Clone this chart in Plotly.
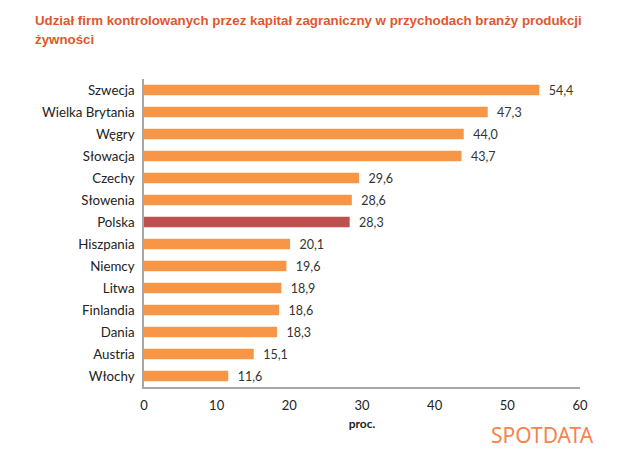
import plotly.graph_objects as go

countries = ['Szwecja', 'Wielka Brytania', 'Węgry', 'Słowacja', 'Czechy', 'Słowenia', 'Polska',
             'Hiszpania', 'Niemcy', 'Litwa', 'Finlandia', 'Dania', 'Austria', 'Włochy']
values = [54.4, 47.3, 44.0, 43.7, 29.6, 28.6, 28.3, 20.1, 19.6, 18.9, 18.6, 18.3, 15.1, 11.6]
labels = ['54,4', '47,3', '44,0', '43,7', '29,6', '28,6', '28,3', '20,1', '19,6', '18,9', '18,6', '18,3', '15,1', '11,6']
x_ticks = [0, 10, 20, 30, 40, 50, 60]

colors = ['#C0504D' if c == 'Polska' else '#F79646' for c in countries]

# page body has an 8px margin, so the figure is a bit smaller than the window
W, H = 632, 462
L, R, T, B = 136, 60, 71, 83
PW, PH = W - L - R, H - T - B


def px(x):
    return (x - L) / PW


def py(y):
    return (H - B - y) / PH


fig = go.Figure()
fig.add_trace(go.Bar(
    x=values, y=countries, orientation='h',
    marker=dict(color=colors, line=dict(width=0)),
    text=labels, texttemplate='\u00a0\u00a0%{text}',
    textposition='outside', cliponaxis=False, constraintext='none',
    textfont=dict(family='Lato', size=12.5, color='#333333'),
))

fig.update_layout(
    width=W, height=H,
    margin=dict(l=L, r=R, t=T, b=B),
    plot_bgcolor='white', paper_bgcolor='white',
    showlegend=False,
    bargap=0.52,
    font=dict(family='Lato', size=13, color='#222222'),
)

fig.update_xaxes(
    range=[0, 60], tickvals=x_ticks, showgrid=False, zeroline=False,
    showline=True, linecolor='#A6A6A6', linewidth=1.5, ticks='',
    ticklabelstandoff=6, tickfont=dict(size=13),
    title=dict(text='<b>proc.</b>', font=dict(size=12), standoff=7),
)
fig.update_yaxes(
    autorange='reversed', showgrid=False, zeroline=False,
    showline=True, linecolor='#A6A6A6', linewidth=1.5, ticks='',
    ticklabelstandoff=5, tickfont=dict(size=13.3),
)

title_font = dict(family='Liberation Sans', size=13.3, color='#E0572C')
fig.add_annotation(
    text='<b>Udział firm kontrolowanych przez kapitał zagraniczny w przychodach branży produkcji</b>',
    xref='paper', yref='paper', x=px(25), y=py(12),
    xanchor='left', yanchor='middle', showarrow=False, font=title_font,
)
fig.add_annotation(
    text='<b>żywności</b>',
    xref='paper', yref='paper', x=px(25), y=py(32),
    xanchor='left', yanchor='middle', showarrow=False, font=title_font,
)
fig.add_annotation(
    text='SPOTDATA', xref='paper', yref='paper', x=px(588), y=py(427),
    xanchor='right', yanchor='middle', showarrow=False,
    font=dict(family='Noto Sans', size=21, color='#F6834F'),
)

fig.write_html('out.html')
